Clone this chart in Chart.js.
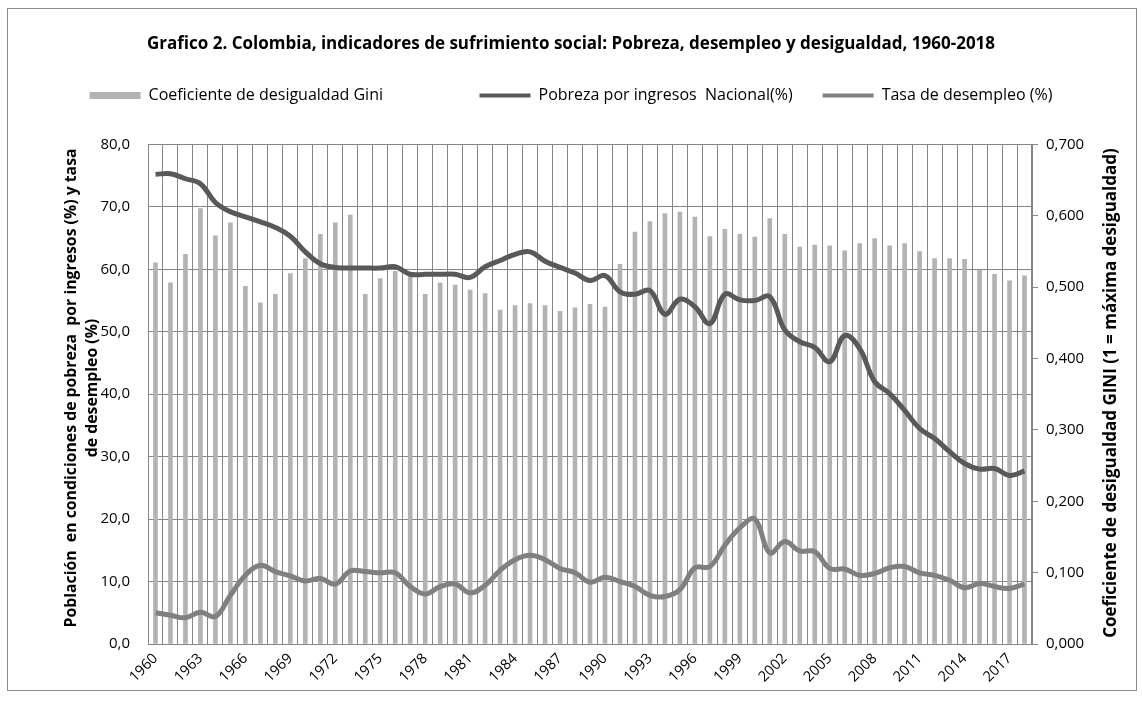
<!DOCTYPE html>
<html>
<head>
<meta charset="utf-8">
<script src="https://cdn.jsdelivr.net/npm/chart.js@4.4.1/dist/chart.umd.min.js"></script>
<style>
  body { margin: 0; background: #fff; }
  #wrap { position: relative; width: 1142px; height: 706px; }
  #frame { position: absolute; left: 7px; top: 8px; width: 1128px; height: 681px; border: 1px solid #8c8c8c; pointer-events: none; }
</style>
</head>
<body>
<div id="wrap">
  <canvas id="chart" width="1142" height="706"></canvas>
  <div id="frame"></div>
</div>
<script>
// Datos
const years = ['1960','1961','1962','1963','1964','1965','1966','1967','1968','1969',
  '1970','1971','1972','1973','1974','1975','1976','1977','1978','1979',
  '1980','1981','1982','1983','1984','1985','1986','1987','1988','1989',
  '1990','1991','1992','1993','1994','1995','1996','1997','1998','1999',
  '2000','2001','2002','2003','2004','2005','2006','2007','2008','2009',
  '2010','2011','2012','2013','2014','2015','2016','2017','2018'];

const gini = [0.534, 0.506, 0.546, 0.610, 0.572, 0.590, 0.501, 0.478, 0.490, 0.519,
  0.540, 0.574, 0.590, 0.601, 0.490, 0.512, 0.522, 0.515, 0.490, 0.506,
  0.503, 0.496, 0.491, 0.468, 0.474, 0.477, 0.474, 0.466, 0.471, 0.476,
  0.472, 0.532, 0.577, 0.592, 0.603, 0.605, 0.598, 0.571, 0.581, 0.574,
  0.570, 0.596, 0.574, 0.556, 0.559, 0.558, 0.551, 0.561, 0.568, 0.558,
  0.561, 0.550, 0.540, 0.540, 0.539, 0.524, 0.518, 0.509, 0.516];

const pobreza = [75.2, 75.3, 74.5, 73.7, 70.7, 69.2, 68.4, 67.6, 66.7, 65.3,
  62.8, 60.9, 60.3, 60.2, 60.2, 60.2, 60.4, 59.2, 59.2, 59.2,
  59.2, 58.7, 60.4, 61.4, 62.4, 62.8, 61.3, 60.3, 59.4, 58.2,
  59.0, 56.4, 56.0, 56.6, 52.8, 55.2, 54.0, 51.3, 56.0, 55.1,
  55.0, 55.6, 50.3, 48.4, 47.5, 45.2, 49.4, 47.3, 42.0, 40.1,
  37.4, 34.5, 32.9, 30.8, 28.9, 28.0, 28.1, 27.0, 27.7];

const desempleo = [5.0, 4.6, 4.2, 5.1, 4.4, 7.8, 11.0, 12.6, 11.6, 10.9,
  10.1, 10.5, 9.6, 11.7, 11.6, 11.4, 11.4, 9.2, 8.0, 9.2,
  9.6, 8.2, 9.4, 11.8, 13.5, 14.2, 13.5, 12.1, 11.4, 9.9,
  10.7, 10.0, 9.2, 7.8, 7.6, 8.7, 12.2, 12.4, 15.8, 18.6,
  20.0, 14.6, 16.4, 14.9, 14.8, 12.1, 12.0, 11.0, 11.3, 12.2,
  12.4, 11.4, 11.0, 10.2, 9.0, 9.7, 9.2, 8.9, 9.6];

const leftTitle = ['Población  en condiciones de pobreza  por ingresos (%) y tasa', 'de desempleo (%)'];
const rightTitle = 'Coeficiente de desigualdad GINI (1 = máxima desigualdad)';

const FONT = '"Open Sans", sans-serif';
const GRID = '#868686';

// titulos de los ejes verticales (el derecho se lee de abajo hacia arriba)
const axisTitles = {
  id: 'axisTitles',
  afterDraw(chart) {
    const ctx = chart.ctx;
    ctx.save();
    ctx.font = 'bold 15.8px ' + FONT;
    ctx.fillStyle = '#000';
    ctx.textAlign = 'center';
    ctx.textBaseline = 'middle';
    ctx.translate(71, 388);
    ctx.rotate(-Math.PI / 2);
    ctx.fillText(leftTitle[0], 0, 0);
    ctx.fillText(leftTitle[1], 0, 21);
    ctx.restore();

    ctx.save();
    ctx.font = 'bold 17px ' + FONT;
    ctx.fillStyle = '#000';
    ctx.textAlign = 'center';
    ctx.textBaseline = 'middle';
    ctx.translate(1111, 393);
    ctx.rotate(-Math.PI / 2);
    ctx.fillText(rightTitle, 0, 0);
    ctx.restore();
  }
};

const ctx = document.getElementById('chart').getContext('2d');
const chart = new Chart(ctx, {
  data: {
    labels: years,
    datasets: [{
      type: 'bar',
      label: 'Coeficiente de desigualdad Gini',
      data: gini,
      yAxisID: 'y1',
      backgroundColor: '#b3b3b3',
      barThickness: 4,
      order: 3
    }, {
      type: 'line',
      label: 'Pobreza por ingresos  Nacional(%)',
      data: pobreza,
      yAxisID: 'y',
      borderColor: '#595959',
      backgroundColor: '#595959',
      borderWidth: 5,
      pointRadius: 0,
      tension: 0.4,
      order: 1
    }, {
      type: 'line',
      label: 'Tasa de desempleo (%)',
      data: desempleo,
      yAxisID: 'y',
      borderColor: '#808080',
      backgroundColor: '#808080',
      borderWidth: 5,
      pointRadius: 0,
      tension: 0.4,
      order: 2
    }]
  },
  options: {
    responsive: false,
    animation: false,
    layout: { padding: 0 },
    plugins: {
      title: {
        display: true,
        text: 'Grafico 2. Colombia, indicadores de sufrimiento social: Pobreza, desempleo y desigualdad, 1960-2018',
        color: '#000',
        font: { family: FONT, size: 17, weight: 'bold', lineHeight: 1.2 },
        padding: { top: 34, bottom: 3 }
      },
      // espacio vacio entre leyenda y grafico
      subtitle: {
        display: true,
        text: '',
        font: { size: 10, lineHeight: 1 },
        padding: { top: 0, bottom: 21 }
      },
      legend: {
        position: 'top',
        weight: 1800,
        labels: {
          color: '#000',
          font: { family: FONT, size: 16 },
          usePointStyle: true,
          pointStyleWidth: 51,
          boxHeight: 7,
          padding: 30,
          sort: (a, b) => a.datasetIndex - b.datasetIndex,
          generateLabels(chart) {
            const items = Chart.defaults.plugins.legend.labels.generateLabels(chart);
            items.forEach(it => {
              const ds = chart.data.datasets[it.datasetIndex];
              if (ds.type === 'bar') {
                it.pointStyle = 'rect';
                it.lineWidth = 0;
                it.text = it.text + '                ';
              } else {
                it.pointStyle = 'line';
                it.strokeStyle = ds.borderColor;
                it.lineWidth = 4;
              }
            });
            return items;
          }
        }
      },
      tooltip: { enabled: false }
    },
    scales: {
      x: {
        offset: true,
        grid: { offset: true, color: GRID, drawTicks: false },
        border: { color: GRID },
        ticks: {
          autoSkip: false,
          maxRotation: 45,
          minRotation: 45,
          padding: 6,
          color: '#000',
          font: { family: FONT, size: 14.5 },
          callback: function (v, i) {
            return (i % 3 === 0) ? years[i] : '';
          }
        },
        afterFit: s => { s.height = 62; }
      },
      y: {
        position: 'left',
        min: 0,
        max: 80,
        ticks: {
          stepSize: 10,
          padding: 18,
          color: '#000',
          font: { family: FONT, size: 15 },
          callback: v => v.toFixed(1).replace('.', ',')
        },
        grid: { color: GRID, drawTicks: false },
        border: { color: GRID },
        afterFit: s => { s.width = 148; }
      },
      y1: {
        position: 'right',
        min: 0,
        max: 0.7,
        ticks: {
          stepSize: 0.1,
          padding: 8,
          color: '#000',
          font: { family: FONT, size: 15 },
          callback: v => v.toFixed(3).replace('.', ',')
        },
        grid: { drawOnChartArea: false, color: GRID, tickLength: 6 },
        border: { color: GRID },
        afterFit: s => { s.width = 110; }
      }
    }
  },
  plugins: [axisTitles]
});
</script>
</body>
</html>
